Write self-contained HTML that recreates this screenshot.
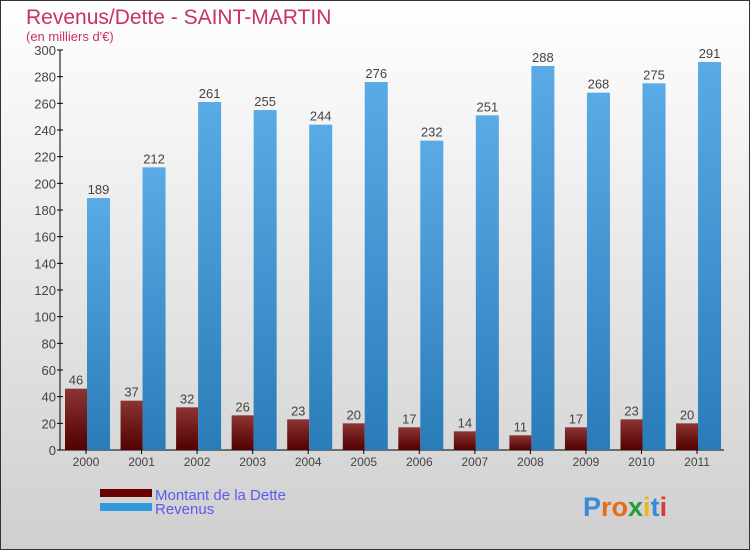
<!DOCTYPE html>
<html><head><meta charset="utf-8"><style>
body{margin:0}
svg text{font-family:"Liberation Sans",sans-serif}
</style></head><body>
<svg width="750" height="550" viewBox="0 0 750 550" xmlns="http://www.w3.org/2000/svg">
<defs>
<linearGradient id="bg" x1="0" y1="0" x2="0" y2="1"><stop offset="0" stop-color="#ffffff"/><stop offset="1" stop-color="#cfcfcf"/></linearGradient>
<linearGradient id="gr" x1="0" y1="0" x2="0" y2="1"><stop offset="0" stop-color="#8c3434"/><stop offset="1" stop-color="#520000"/></linearGradient>
<linearGradient id="gb" x1="0" y1="0" x2="0" y2="1"><stop offset="0" stop-color="#5aaae6"/><stop offset="1" stop-color="#2a7cb8"/></linearGradient>
</defs>
<rect x="0.5" y="0.5" width="749" height="549" fill="url(#bg)" stroke="#333"/>
<text x="26" y="24" font-size="21" fill="#c8306a">Revenus/Dette - SAINT-MARTIN</text>
<text x="26" y="41" font-size="13" fill="#c8306a">(en milliers d'€)</text>
<g id="axes"></g>
<g id="bars"></g>
<rect x="100" y="489" width="52" height="8" fill="#6a0000"/>
<rect x="100" y="503" width="52" height="8" fill="#3399dd"/>
<text x="155" y="500" font-size="15" fill="#5a5aee">Montant de la Dette</text>
<text x="155" y="514" font-size="15" fill="#5a5aee">Revenus</text>
<text x="583" y="516" font-size="27" font-weight="bold"><tspan fill="#3a8ad8">P</tspan><tspan fill="#e86a1a">ro</tspan><tspan fill="#2a9a3a">x</tspan><tspan fill="#e8b81a">i</tspan><tspan fill="#3a8ad8">t</tspan><tspan fill="#d83a3a">i</tspan></text>
</svg>
<script>
const years=["2000","2001","2002","2003","2004","2005","2006","2007","2008","2009","2010","2011"];
const dette=[46,37,32,26,23,20,17,14,11,17,23,20];
const revenus=[189,212,261,255,244,276,232,251,288,268,275,291];
const yTicks=[0,20,40,60,80,100,120,140,160,180,200,220,240,260,280,300];
const NS="http://www.w3.org/2000/svg";
const y0=450,ppu=400/300,x0=86,step=55.55;
const yS=v=>y0-v*ppu, xC=i=>x0+i*step;
function mk(t,a,p){const e=document.createElementNS(NS,t);for(const k in a)e.setAttribute(k,a[k]);p.appendChild(e);return e;}
const ax=document.getElementById('axes'),bs=document.getElementById('bars');
let l=mk('line',{x1:60,y1:50,x2:60,y2:450,stroke:'#000'},ax);


l=mk('line',{x1:60,y1:450,x2:724,y2:450,stroke:'#000'},ax);


yTicks.forEach(v=>{
 const t=mk('line',{x1:57,x2:63,y1:yS(v),y2:yS(v),stroke:'#000'},ax);
 
 
 const tx=mk('text',{x:56,y:yS(v)+5,'font-size':13,fill:'#444','text-anchor':'end'},ax);
 tx.textContent=v;
 
 
});
years.forEach((yr,i)=>{
 const c=xC(i);
 const t=mk('line',{x1:c,x2:c,y1:450,y2:454,stroke:'#000'},ax);
 
 
 const tx=mk('text',{x:c,y:466,'font-size':12,fill:'#444','text-anchor':'middle'},ax);
 tx.textContent=yr;
 
 
 const r=mk('rect',{x:c-21,y:yS(dette[i]),width:22,height:dette[i]*ppu,fill:'url(#gr)'},bs);
 
 
 const b=mk('rect',{x:c+1,y:yS(revenus[i]),width:23,height:revenus[i]*ppu,fill:'url(#gb)'},bs);
 
 
 const v1=mk('text',{x:c-10,y:yS(dette[i])-4,'font-size':13,fill:'#444','text-anchor':'middle'},bs);
 v1.textContent=dette[i];
 
 
 const v2=mk('text',{x:c+12.5,y:yS(revenus[i])-4,'font-size':13,fill:'#444','text-anchor':'middle'},bs);
 v2.textContent=revenus[i];
 
 
});
</script>
</body></html>
